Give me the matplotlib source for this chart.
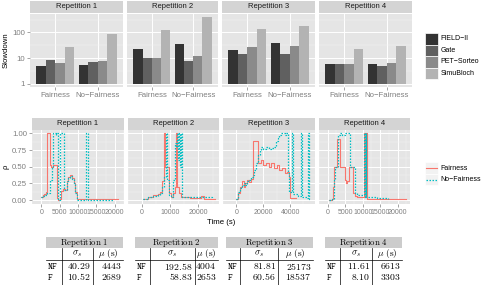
import matplotlib
matplotlib.use("Agg")
import matplotlib.pyplot as plt
from matplotlib.patches import Rectangle
from matplotlib.lines import Line2D
import numpy as np

plt.rcParams['mathtext.fontset'] = 'cm'
plt.rcParams['font.family'] = ['Liberation Sans', 'DejaVu Sans']

W, H = 483, 285

# ---------------- data ----------------
reps = ["Repetition 1", "Repetition 2", "Repetition 3", "Repetition 4"]
modes = ["Fairness", "No\u2212Fairness"]
simulators = ["FIELD\u2212II", "Gate", "PET\u2212Sorteo", "SimuBloch"]

slow_rep1_fair = [5.1, 8.7, 6.3, 27]
slow_rep1_nofair = [5.3, 7.1, 7.8, 87]
slow_rep2_fair = [23, 9.8, 9.8, 126]
slow_rep2_nofair = [35, 7.5, 12.5, 390]
slow_rep3_fair = [21, 14.5, 26, 138]
slow_rep3_nofair = [38.6, 14, 30, 186]
slow_rep4_fair = [5.9, 5.9, 5.9, 22]
slow_rep4_nofair = [5.9, 5.1, 6.3, 29]

rep1_fair_t = [0, 400, 800, 1200, 1700, 2300, 2700, 3300, 4300, 4500, 5000, 5500, 5800, 6400, 6900, 7300, 7900, 8300, 8800, 9200, 9700, 20900]
rep1_fair_rho = [0.05, 0.07, 0.09, 0.12, 1.00, 0.52, 0.50, 0.52, 0.03, 0.00, 0.02, 0.13, 0.17, 0.15, 0.28, 0.35, 0.38, 0.33, 0.25, 0.12, 0.01, 0.01]
rep1_nf_t = [0, 500, 1000, 1700, 2500, 2800, 3100, 3900, 4100, 4500, 5200, 6300, 6900, 7400, 7900, 8300, 8800, 9200, 9700, 12200, 12600, 19700]
rep1_nf_rho = [0.05, 0.06, 0.08, 0.10, 0.30, 0.50, 1.00, 0.97, 1.00, 0.00, 1.00, 0.15, 0.28, 0.33, 0.36, 0.32, 0.24, 0.10, 0.00, 1.00, 0.00, 0.00]

rep2_fair_t = [300, 2000, 4000, 5500, 6500, 7200, 7800, 8250, 9600, 10100, 11000, 11500, 12000, 12500, 13000, 13800, 15000, 17000, 21000, 22100, 26000]
rep2_fair_rho = [0.02, 0.05, 0.07, 0.09, 0.12, 0.28, 1.00, 0.50, 0.10, 0.05, 0.10, 0.20, 1.00, 0.20, 0.10, 0.05, 0.04, 0.03, 0.06, 0.02, 0.02]
rep2_nf_t = [300, 2000, 4000, 5500, 6500, 7200, 7700, 8400, 8900, 9600, 10200, 11000, 11600, 12200, 12500, 12800, 13100, 13400, 13700, 14000, 16000, 24700]
rep2_nf_rho = [0.02, 0.04, 0.06, 0.08, 0.11, 0.20, 0.35, 1.00, 0.30, 0.08, 0.05, 0.30, 0.85, 0.80, 1.00, 0.60, 1.00, 0.50, 1.00, 0.05, 0.04, 0.03]

rep3_fair_t = [0, 1300, 2700, 4000, 5300, 6700, 8000, 9300, 10700, 12300, 16000, 18000, 20000, 22000, 24000, 26000, 28000, 30000, 32000, 34000, 36000, 38000, 39300, 40000, 44700]
rep3_fair_rho = [0.02, 0.10, 0.20, 0.28, 0.20, 0.25, 0.30, 0.27, 0.32, 0.88, 0.55, 0.60, 0.52, 0.56, 0.50, 0.55, 0.48, 0.52, 0.45, 0.48, 0.40, 0.42, 0.35, 0.03, 0.03]
rep3_nf_t = [0, 1300, 2700, 4000, 5300, 6700, 8000, 9300, 10700, 12000, 13300, 14700, 16000, 17300, 18700, 20000, 22000, 24000, 26000, 28000, 29300, 30700, 32000, 33300, 36000, 37300, 38700, 39300, 41300, 42000, 46000, 48300, 49000, 52500, 53700, 54400, 55800]
rep3_nf_rho = [0.02, 0.12, 0.18, 0.22, 0.25, 0.22, 0.28, 0.30, 0.35, 0.38, 0.45, 0.55, 0.68, 0.75, 0.80, 0.76, 0.79, 0.76, 0.78, 0.80, 0.88, 0.93, 0.97, 1.00, 0.98, 1.00, 0.40, 0.12, 1.00, 0.09, 0.06, 1.00, 0.05, 0.03, 1.00, 0.02, 0.02]

rep4_fair_t = [300, 1250, 1500, 1800, 2600, 3400, 4800, 5200, 5600, 6100, 7300, 7900, 8400, 10500, 10700, 10900, 11100, 11300, 22400]
rep4_fair_rho = [0.00, 0.02, 0.20, 0.50, 0.92, 0.50, 0.30, 0.25, 0.28, 0.50, 0.10, 0.06, 0.04, 1.00, 0.05, 1.00, 0.03, 0.02, 0.02]
rep4_nf_t = [300, 1300, 1700, 2100, 2900, 3500, 4200, 5000, 6400, 7900, 8400, 10400, 10600, 10800, 11000, 11200, 14000, 17300]
rep4_nf_rho = [0.00, 0.02, 0.30, 0.50, 0.97, 1.00, 0.97, 1.00, 0.50, 0.10, 0.08, 1.00, 0.05, 1.00, 0.05, 0.04, 0.03, 0.02]

time_ticks_rep1 = [0, 5000, 10000, 15000, 20000]
time_ticks_rep2 = [0, 10000, 20000]
time_ticks_rep3 = [0, 20000, 40000]
time_ticks_rep4 = [0, 5000, 10000, 15000, 20000]
rho_ticks = [0.0, 0.25, 0.5, 0.75, 1.0]
slow_ticks = [1, 10, 100]

table_rows = ["NF", "F"]
sigma_rep1 = ["40.29", "10.52"]
mu_rep1 = ["4443", "2689"]
sigma_rep2 = ["192.58", "58.83"]
mu_rep2 = ["4004", "2653"]
sigma_rep3 = ["81.81", "60.56"]
mu_rep3 = ["25173", "18537"]
sigma_rep4 = ["11.61", "8.10"]
mu_rep4 = ["6613", "3303"]

# ---------------- styles ----------------
sim_colors = ["#333333", "#606060", "#8a8a8a", "#b3b3b3"]
fair_color = "#F8766D"
nf_color = "#00BFC4"
panel_bg = "#E5E5E5"
strip_bg = "#D4D4D4"
tick_col = "#7F7F7F"
FS = 5.6
FS_TIME = 5.0
FS_STRIP = 5.5
FS_LEG = 5.0

fig = plt.figure(figsize=(W / 100, H / 100), dpi=100)


def px_axes(x0, y0, x1, y1):
    return fig.add_axes([x0 / W, 1 - y1 / H, (x1 - x0) / W, (y1 - y0) / H])


def strip(x0, y0, x1, y1, label):
    s = px_axes(x0, y0, x1, y1)
    s.set_facecolor(strip_bg)
    s.set_xticks([]); s.set_yticks([])
    for sp in s.spines.values():
        sp.set_visible(False)
    s.text(0.5, 0.5, label, ha='center', va='center', fontsize=FS_STRIP, color='#1a1a1a',
           transform=s.transAxes)


def style_panel(ax):
    ax.set_facecolor(panel_bg)
    for sp in ax.spines.values():
        sp.set_visible(False)
    ax.tick_params(axis='both', which='major', length=2.2, width=0.5, color=tick_col,
                   labelcolor=tick_col, labelsize=FS, pad=1.5)
    ax.tick_params(axis='both', which='minor', length=0)
    ax.grid(True, which='major', color='white', lw=0.7)
    ax.grid(True, which='minor', color='#F2F2F2', lw=0.35)
    ax.set_axisbelow(True)


# ---------------- top: slowdown bars ----------------
bar_sets = [(slow_rep1_fair, slow_rep1_nofair), (slow_rep2_fair, slow_rep2_nofair),
            (slow_rep3_fair, slow_rep3_nofair), (slow_rep4_fair, slow_rep4_nofair)]
top_x = [(30, 123), (127, 218), (222, 315), (319, 412)]
all_vals = [v for pair in bar_sets for grp in pair for v in grp]
lmax = np.log10(max(all_vals))
exp = 0.05 * lmax
bw = 0.225
offs = (np.arange(4) - 1.5) * bw
for i, (fair, nofair) in enumerate(bar_sets):
    x0, x1 = top_x[i]
    strip(x0, 1, x1, 13, reps[i])
    ax = px_axes(x0, 14, x1, 87)
    style_panel(ax)
    ax.set_yscale('log')
    for g, grp in enumerate([fair, nofair]):
        for k, v in enumerate(grp):
            ax.bar(g + 1 + offs[k], v - 1, bottom=1, width=bw, color=sim_colors[k], lw=0)
    ax.set_xlim(0.4, 2.6)
    ax.set_ylim(10 ** (-exp), 10 ** (lmax + exp))
    ax.set_xticks([1, 2])
    ax.set_xticklabels(modes)
    ax.set_yticks(slow_ticks)
    ax.set_yticks([10 ** 0.5, 10 ** 1.5, 10 ** 2.5], minor=True)
    ax.xaxis.grid(True, which='minor', lw=0)
    if i == 0:
        ax.set_yticklabels([str(t) for t in slow_ticks])
        ax.set_ylabel("Slowdown", fontsize=FS, labelpad=2, color='black')
    else:
        ax.tick_params(axis='y', which='both', length=0, labelleft=False)

# ---------------- middle: rho lines ----------------
line_sets = [(rep1_fair_t, rep1_fair_rho, rep1_nf_t, rep1_nf_rho, time_ticks_rep1),
             (rep2_fair_t, rep2_fair_rho, rep2_nf_t, rep2_nf_rho, time_ticks_rep2),
             (rep3_fair_t, rep3_fair_rho, rep3_nf_t, rep3_nf_rho, time_ticks_rep3),
             (rep4_fair_t, rep4_fair_rho, rep4_nf_t, rep4_nf_rho, time_ticks_rep4)]
mid_x = [(32, 124), (128, 219), (223, 315), (319, 410)]
for i, (ft, fr, nt, nr, ticks) in enumerate(line_sets):
    x0, x1 = mid_x[i]
    strip(x0, 118, x1, 129.5, reps[i])
    ax = px_axes(x0, 130, x1, 203.5)
    style_panel(ax)
    ax.plot(ft, fr, drawstyle='steps-post', color=fair_color, lw=0.8)
    ax.plot(nt, nr, drawstyle='steps-post', color=nf_color, lw=0.9, dashes=(1.2, 1.2))
    tmin = min(ft[0], nt[0]); tmax = max(ft[-1], nt[-1])
    e = 0.05 * (tmax - tmin)
    ax.set_xlim(tmin - e, tmax + e)
    ax.set_ylim(-0.05, 1.05)
    ax.set_xticks(ticks)
    step = ticks[1] - ticks[0]
    ax.set_xticks(list(np.array(ticks) + step / 2) + [ticks[0] - step / 2], minor=True)
    ax.set_xticklabels([str(t) for t in ticks])
    ax.tick_params(axis='x', labelsize=FS_TIME)
    ax.set_yticks(rho_ticks)
    ax.set_yticks([0.125, 0.375, 0.625, 0.875], minor=True)
    if i == 0:
        ax.set_yticklabels(["%.2f" % t for t in rho_ticks])
        ax.set_ylabel("\u03c1", fontsize=FS, labelpad=2, color='black')
    else:
        ax.tick_params(axis='y', which='both', length=0, labelleft=False)

fig.text(221 / W, 1 - 222 / H, "Time (s)", fontsize=FS, ha='center', va='center')

# ---------------- overlay: legends and tables ----------------
ov = fig.add_axes([0, 0, 1, 1])
ov.set_xlim(0, W); ov.set_ylim(H, 0)
ov.axis('off')

key_y = [33, 44.5, 56, 67.5]
for k, name in enumerate(simulators):
    ov.add_patch(Rectangle((425, key_y[k]), 13, 11.5, facecolor=sim_colors[k],
                           edgecolor='white', lw=0.5))
    ov.text(440.5, key_y[k] + 5.9, name, fontsize=FS_LEG, va='center', ha='left')

ov.add_patch(Rectangle((425, 162), 13, 11.5, facecolor='#F2F2F2', edgecolor='white', lw=0.5))
ov.add_patch(Rectangle((425, 173.5), 13, 11.5, facecolor='#F2F2F2', edgecolor='white', lw=0.5))
ov.add_line(Line2D([426, 437], [168, 168], color=fair_color, lw=0.8))
ov.add_line(Line2D([426, 437], [179.5, 179.5], color=nf_color, lw=0.9, dashes=(1.2, 1.2)))
ov.text(440.5, 168, "Fairness", fontsize=FS_LEG, va='center')
ov.text(440.5, 179.5, "No\u2212Fairness", fontsize=FS_LEG, va='center')

tables = [(sigma_rep1, mu_rep1), (sigma_rep2, mu_rep2), (sigma_rep3, mu_rep3), (sigma_rep4, mu_rep4)]
tab_geo = [(46, 62, 93, 123), (135, 150, 195, 218), (226, 240, 278, 313), (325, 340, 372, 402)]
for i, (sig, mu) in enumerate(tables):
    a, b, c, d = tab_geo[i]
    ov.add_patch(Rectangle((a, 237), d - a, 11, facecolor='#CCCCCC', edgecolor='none'))
    ov.text((a + d) / 2, 242.8, r"$\mathrm{%s}$" % reps[i].replace(" ", r"\ "),
            fontsize=6.3, ha='center', va='center')
    ov.add_line(Line2D([b, b], [248, 285], color='black', lw=0.5))
    ov.add_line(Line2D([c, c], [248, 285], color='black', lw=0.5))
    ov.add_line(Line2D([a, d], [259.5, 259.5], color='black', lw=0.5))
    ov.text((b + c) / 2, 254, r"$\sigma_s$", fontsize=6.8, ha='center', va='center')
    ov.text((c + d) / 2, 254, r"$\mu\ \mathrm{(s)}$", fontsize=6.8, ha='center', va='center')
    for r, yy in enumerate([266, 277]):
        ov.text(a + 1, yy, r"$\mathtt{%s}$" % table_rows[r], fontsize=6.5, ha='left', va='center')
        ov.text(c - 2, yy, r"$%s$" % sig[r], fontsize=7.0, ha='right', va='center')
        ov.text(d - 1.5, yy, r"$%s$" % mu[r], fontsize=7.0, ha='right', va='center')

fig.savefig("out.png", dpi=100)
